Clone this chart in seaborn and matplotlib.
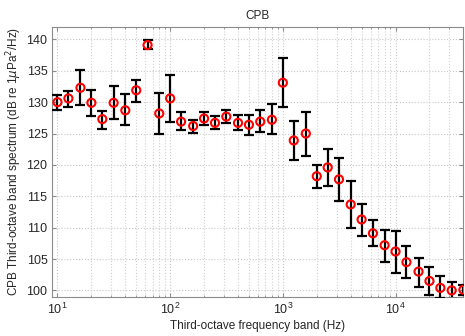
import numpy as np
import pandas as pd
import matplotlib
matplotlib.use("Agg")
import matplotlib.pyplot as plt
import seaborn as sns

# third-octave band centres (Hz)
freqs = [10, 12.5, 16, 20, 25, 31.5, 40, 50, 63, 80,
         100, 125, 160, 200, 250, 315, 400, 500, 630, 800,
         1000, 1250, 1600, 2000, 2500, 3150, 4000, 5000, 6300, 8000,
         10000, 12500, 16000, 20000, 25000, 31500, 40000]
# mean band level (dB re 1 uPa^2/Hz)
level = [130.0, 130.6, 132.3, 129.9, 127.3, 129.9, 128.7, 131.9, 139.1, 128.2,
         130.6, 126.9, 126.2, 127.4, 126.7, 127.7, 126.7, 126.4, 126.9, 127.2,
         133.1, 123.9, 125.0, 118.2, 119.6, 117.7, 113.7, 111.3, 109.1, 107.2,
         106.2, 104.5, 103.0, 101.5, 100.4, 100.0, 100.1]
# error bar ends
upper = [131.1, 131.8, 135.1, 131.9, 128.6, 132.5, 131.3, 133.6, 139.9, 131.4,
         134.3, 128.4, 127.1, 128.5, 127.8, 128.7, 127.9, 127.9, 128.7, 129.7,
         137.1, 127.0, 128.5, 120.0, 122.5, 121.1, 117.5, 113.7, 111.2, 109.7,
         109.5, 107.1, 105.2, 103.7, 102.3, 101.3, 100.9]
lower = [128.7, 129.3, 129.5, 127.8, 125.8, 127.3, 126.3, 130.1, 138.4, 124.9,
         126.8, 125.5, 125.1, 126.3, 125.7, 126.7, 125.5, 124.8, 125.2, 125.0,
         129.2, 120.8, 121.5, 116.4, 116.6, 114.2, 110.0, 108.7, 107.1, 104.6,
         102.8, 101.9, 100.6, 99.3, 98.8, 98.7, 99.3]

df = pd.DataFrame({"freq": freqs, "level": level, "upper": upper, "lower": lower})

sns.set_style("ticks")
plt.rcParams['font.family'] = ['Liberation Sans', 'DejaVu Sans']

fig = plt.figure(figsize=(4.65, 3.36), dpi=100)
ax = fig.add_axes([0.1125, 0.117, 0.884, 0.803])

ax.errorbar(df["freq"], df["level"],
            yerr=[df["level"] - df["lower"], df["upper"] - df["level"]],
            fmt="none", ecolor="black", elinewidth=1.6, capsize=3.5, capthick=1.6, zorder=3)
sns.scatterplot(data=df, x="freq", y="level", ax=ax, marker="o", s=34,
                facecolors="none", edgecolor="red", linewidth=1.5, zorder=4, legend=False)

ax.set_xscale("log")
ax.set_xlim(9, 40000)
ax.set_ylim(99, 142)
ax.set_yticks(np.arange(100, 141, 5))

ax.grid(True, which="major", axis="both", color="#c8c8c8", linestyle=":", linewidth=0.8)
ax.grid(True, which="minor", axis="x", color="#d0d0d0", linestyle=":", linewidth=0.8)

for s in ax.spines.values():
    s.set_color("#8c8c8c")
    s.set_linewidth(0.8)
ax.tick_params(which="both", direction="in", top=True, right=True, colors="#8c8c8c",
               labelcolor="#262626", labelsize=9)
ax.tick_params(which="major", length=3)
ax.tick_params(which="minor", length=1.5)

ax.set_title("CPB", fontsize=8.5, color="#262626", pad=6)
ax.set_xlabel("Third-octave frequency band (Hz)", fontsize=8.5, color="#262626", labelpad=2)
ax.set_ylabel(r"CPB Third-octave band spectrum (dB re 1$\mu$Pa$^2$/Hz)", fontsize=8.5,
              color="#262626", labelpad=2)

fig.savefig("out.png", dpi=100)
